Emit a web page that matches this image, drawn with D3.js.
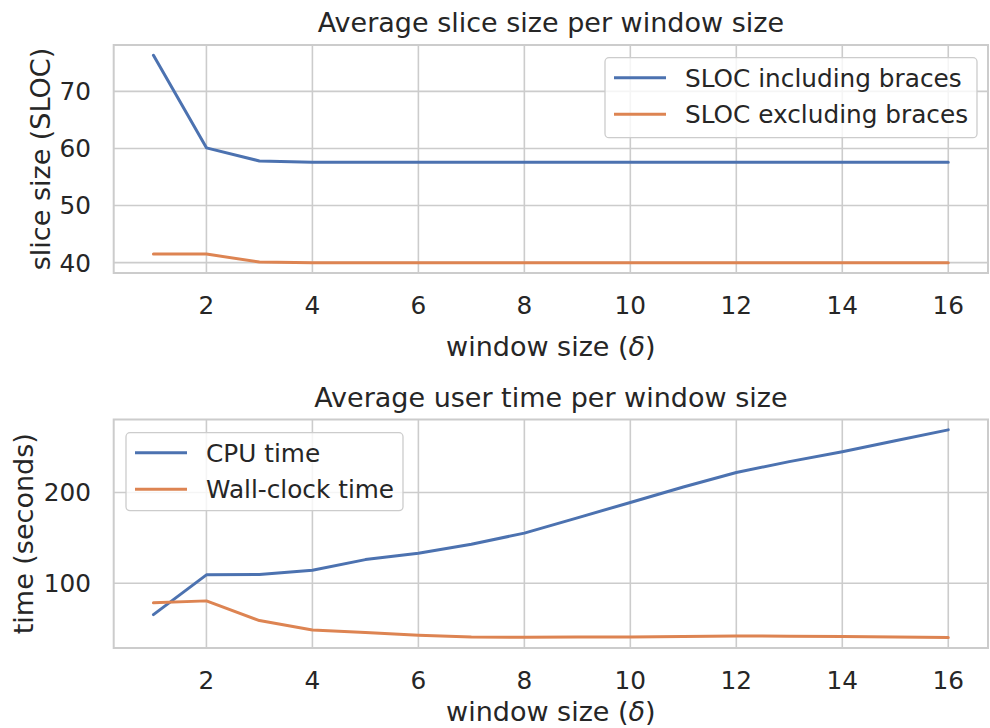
<!DOCTYPE html>
<html>
<head>
<meta charset="utf-8">
<script src="https://cdn.jsdelivr.net/npm/d3@7"></script>
<style>
  body { margin: 0; background: #fff; }
  svg text { font-family: "DejaVu Sans", sans-serif; fill: #262626; }
</style>
</head>
<body>
<div id="chart"></div>
<script>
// window sizes (x axis)
var windowSizes = [1, 2, 3, 4, 5, 6, 7, 8, 9, 10, 11, 12, 13, 14, 15, 16];
// top panel: average slice size
var slocIncl = [76.3, 60.1, 57.8, 57.6, 57.6, 57.6, 57.6, 57.6, 57.6, 57.6, 57.6, 57.6, 57.6, 57.6, 57.6, 57.6];
var slocExcl = [41.5, 41.5, 40.1, 40.0, 40.0, 40.0, 40.0, 40.0, 40.0, 40.0, 40.0, 40.0, 40.0, 40.0, 40.0, 40.0];
// bottom panel: average user time
var cpuTime  = [65.3, 109.2, 109.5, 114.3, 126, 133, 143, 155.2, 172, 189, 206, 222, 234, 245, 257, 269];
var wallTime = [78.3, 80.5, 58.8, 48.5, 45.6, 42.6, 40.8, 40.4, 40.6, 40.8, 41.3, 41.8, 41.5, 41.2, 40.6, 40.0];

var xTickVals = [2, 4, 6, 8, 10, 12, 14, 16];
var topYTicks = [40, 50, 60, 70];
var botYTicks = [100, 200];

var panels = [
  {title: "Average slice size per window size", ylabel: "slice size (SLOC)",
   series: [{name: "SLOC including braces", values: slocIncl}, {name: "SLOC excluding braces", values: slocExcl}],
   yticks: topYTicks, top: 45, bottom: 273, ylabX: 40, xlabY: 356, legend: "right"},
  {title: "Average user time per window size", ylabel: "time (seconds)",
   series: [{name: "CPU time", values: cpuTime}, {name: "Wall-clock time", values: wallTime}],
   yticks: botYTicks, top: 419.5, bottom: 648, ylabX: 23, xlabY: 721, legend: "left"}
];

var colors = ["#4c72b0", "#dd8452"];
var left = 113.7, right = 988;

var svg = d3.select("#chart").append("svg")
  .attr("width", 990)
  .attr("height", 728);

// matplotlib style 5% margins
function padded(ext) {
  var m = (ext[1] - ext[0]) * 0.05;
  return [ext[0] - m, ext[1] + m];
}

var x = d3.scaleLinear().domain(padded(d3.extent(windowSizes))).range([left, right]);

panels.forEach(function(p) {
  var allVals = p.series[0].values.concat(p.series[1].values);
  var y = d3.scaleLinear().domain(padded(d3.extent(allVals))).range([p.bottom, p.top]);
  var g = svg.append("g");

  // grid
  g.append("g").selectAll("line").data(xTickVals).enter().append("line")
    .attr("x1", d => x(d)).attr("x2", d => x(d))
    .attr("y1", p.top).attr("y2", p.bottom)
    .style("stroke", "#cccccc").style("stroke-width", 1.6);
  g.append("g").selectAll("line").data(p.yticks).enter().append("line")
    .attr("x1", left).attr("x2", right)
    .attr("y1", d => y(d)).attr("y2", d => y(d))
    .style("stroke", "#cccccc").style("stroke-width", 1.6);

  // frame
  g.append("rect")
    .attr("x", left).attr("y", p.top)
    .attr("width", right - left).attr("height", p.bottom - p.top)
    .style("fill", "none").style("stroke", "#cccccc").style("stroke-width", 2);

  // lines
  var line = d3.line().x((d, i) => x(windowSizes[i])).y(d => y(d));
  p.series.forEach(function(s, k) {
    g.append("path")
      .datum(s.values)
      .attr("d", line)
      .style("fill", "none")
      .style("stroke", colors[k])
      .style("stroke-width", 3)
      .style("stroke-linecap", "round")
      .style("stroke-linejoin", "round");
  });

  // tick labels
  g.append("g").selectAll("text").data(xTickVals).enter().append("text")
    .attr("x", d => x(d)).attr("y", p.bottom + 41)
    .attr("text-anchor", "middle")
    .style("font-size", "24.75px")
    .text(d => d);
  g.append("g").selectAll("text").data(p.yticks).enter().append("text")
    .attr("x", 91).attr("y", d => y(d))
    .attr("dy", "0.36em")
    .attr("text-anchor", "end")
    .style("font-size", "24.75px")
    .text(d => d);

  // title
  g.append("text")
    .attr("x", (left + right) / 2).attr("y", p.top - 13)
    .attr("text-anchor", "middle")
    .style("font-size", "27px")
    .text(p.title);

  // x label
  var xl = g.append("text")
    .attr("x", (left + right) / 2).attr("y", p.xlabY)
    .attr("text-anchor", "middle")
    .style("font-size", "27px");
  xl.append("tspan").text("window size (");
  xl.append("tspan").style("font-style", "italic").text("δ");
  xl.append("tspan").text(")");

  // y label
  g.append("text")
    .attr("transform", "translate(" + p.ylabX + "," + ((p.top + p.bottom) / 2) + ") rotate(-90)")
    .attr("text-anchor", "middle")
    .attr("dy", "0.36em")
    .style("font-size", "27px")
    .text(p.ylabel);

  // legend
  var lg;
  if (p.legend == "right") {
    lg = g.append("g").attr("transform", "translate(605," + (p.top + 12.7) + ")");
    lg.append("rect").attr("width", 372).attr("height", 80).attr("rx", 4)
      .style("fill", "#fff").style("fill-opacity", 0.8)
      .style("stroke", "#cccccc").style("stroke-width", 1.3);
  } else {
    lg = g.append("g").attr("transform", "translate(126," + (p.top + 13.2) + ")");
    lg.append("rect").attr("width", 277).attr("height", 78).attr("rx", 4)
      .style("fill", "#fff").style("fill-opacity", 0.8)
      .style("stroke", "#cccccc").style("stroke-width", 1.3);
  }
  p.series.forEach(function(s, k) {
    var yy = 20 + k * 36.5;
    lg.append("line")
      .attr("x1", 9).attr("x2", 61)
      .attr("y1", yy).attr("y2", yy)
      .style("stroke", colors[k]).style("stroke-width", 3);
    lg.append("text")
      .attr("x", 80).attr("y", yy).attr("dy", "0.36em")
      .style("font-size", "24.75px")
      .text(s.name);
  });
});
</script>
</body>
</html>
